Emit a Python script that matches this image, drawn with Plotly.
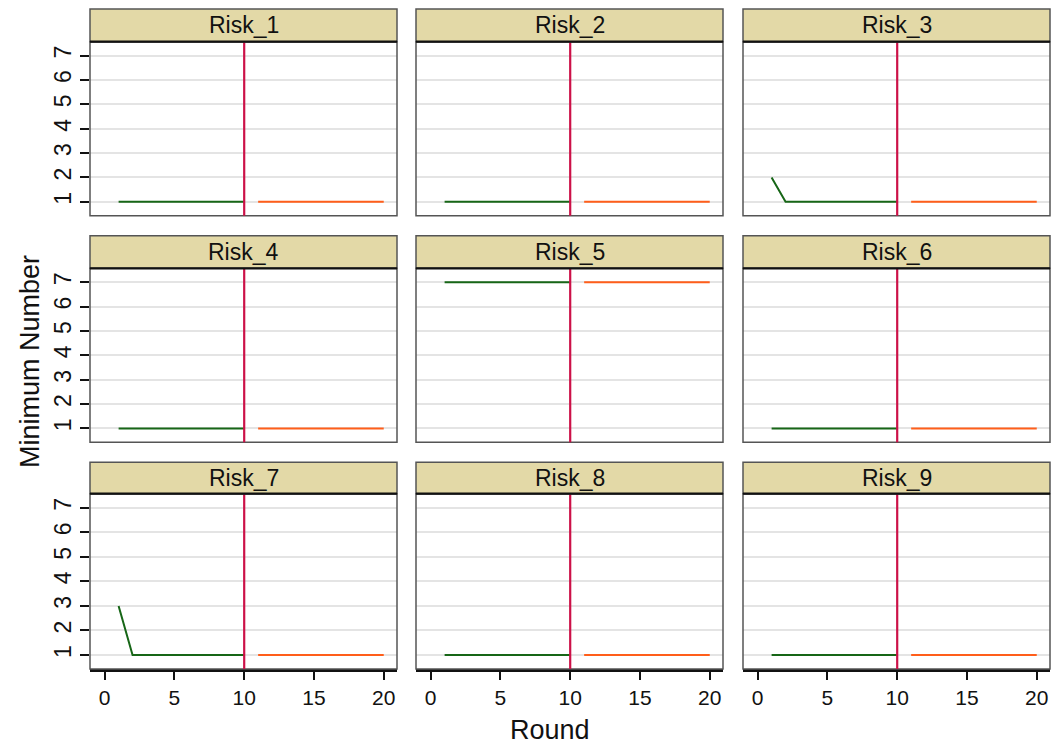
import plotly.graph_objects as go

W, H = 1054, 749

panels = ["Risk_1", "Risk_2", "Risk_3", "Risk_4", "Risk_5", "Risk_6", "Risk_7", "Risk_8", "Risk_9"]
rounds_before = [1, 2, 3, 4, 5, 6, 7, 8, 9, 10]
rounds_after = [11, 12, 13, 14, 15, 16, 17, 18, 19, 20]
before_vals = {
    "Risk_1": [1, 1, 1, 1, 1, 1, 1, 1, 1, 1],
    "Risk_2": [1, 1, 1, 1, 1, 1, 1, 1, 1, 1],
    "Risk_3": [2, 1, 1, 1, 1, 1, 1, 1, 1, 1],
    "Risk_4": [1, 1, 1, 1, 1, 1, 1, 1, 1, 1],
    "Risk_5": [7, 7, 7, 7, 7, 7, 7, 7, 7, 7],
    "Risk_6": [1, 1, 1, 1, 1, 1, 1, 1, 1, 1],
    "Risk_7": [3, 1, 1, 1, 1, 1, 1, 1, 1, 1],
    "Risk_8": [1, 1, 1, 1, 1, 1, 1, 1, 1, 1],
    "Risk_9": [1, 1, 1, 1, 1, 1, 1, 1, 1, 1],
}
after_vals = {
    "Risk_1": [1] * 10,
    "Risk_2": [1] * 10,
    "Risk_3": [1] * 10,
    "Risk_4": [1] * 10,
    "Risk_5": [7] * 10,
    "Risk_6": [1] * 10,
    "Risk_7": [1] * 10,
    "Risk_8": [1] * 10,
    "Risk_9": [1] * 10,
}
x_ticks = [0, 5, 10, 15, 20]
y_ticks = [1, 2, 3, 4, 5, 6, 7]
split_round = 10

GREEN = "#176617"
ORANGE = "#FF5E1A"
VLINE = "#CC1148"
STRIP = "#E3D9A7"
FONT = "Liberation Sans, Arial, sans-serif"

col_px = [(90, 397), (416, 723), (743, 1050)]
row_px = [(41.7, 215.7), (268.3, 442.3), (493.7, 669.0)]
strip_top = [9, 235.7, 462.3]

fig = go.Figure()
shapes = []
annotations = []

for i, name in enumerate(panels):
    r, c = divmod(i, 3)
    k = i + 1
    xa = "x" if k == 1 else f"x{k}"
    ya = "y" if k == 1 else f"y{k}"
    fig.add_trace(go.Scatter(x=rounds_before, y=before_vals[name], mode="lines",
                             line=dict(color=GREEN, width=2), xaxis=xa, yaxis=ya,
                             showlegend=False, hoverinfo="skip"))
    fig.add_trace(go.Scatter(x=rounds_after, y=after_vals[name], mode="lines",
                             line=dict(color=ORANGE, width=2), xaxis=xa, yaxis=ya,
                             showlegend=False, hoverinfo="skip"))
    x0, x1 = col_px[c]
    y0, y1 = row_px[r]
    xd = [x0 / W, x1 / W]
    yd = [1 - y1 / H, 1 - y0 / H]
    bottom = r == 2
    left = c == 0
    fig.layout[("xaxis" if k == 1 else f"xaxis{k}")] = dict(
        domain=xd, range=[-1.05, 20.95], anchor=ya,
        showgrid=False, zeroline=False,
        tickvals=x_ticks, showticklabels=bottom,
        ticks="outside" if bottom else "", ticklen=8, tickwidth=1.8, tickcolor="#111",
        tickfont=dict(family=FONT, size=21, color="#111"),
        showline=bottom, linecolor="#111", linewidth=2.5, mirror=False,
    )
    fig.layout[("yaxis" if k == 1 else f"yaxis{k}")] = dict(
        domain=yd, range=[0.43, 7.57], anchor=xa,
        showgrid=True, gridcolor="#E4E4E4", gridwidth=2, zeroline=False,
        tickvals=y_ticks, showticklabels=left, tickangle=-90,
        ticks="outside" if left else "", ticklen=9, tickwidth=1.8, tickcolor="#111",
        tickfont=dict(family=FONT, size=23, color="#111"),
        showline=False,
    )
    shapes.append(dict(type="rect", xref=f"{xa} domain", yref=f"{ya} domain",
                       x0=0, x1=1, y0=0, y1=1, line=dict(color="#555", width=1.5),
                       layer="above"))
    shapes.append(dict(type="line", xref=xa, yref=f"{ya} domain",
                       x0=split_round, x1=split_round, y0=0, y1=1,
                       line=dict(color=VLINE, width=2.2), layer="above"))
    st = strip_top[r]
    shapes.append(dict(type="rect", xref="paper", yref="paper",
                       x0=x0 / W, x1=x1 / W, y0=1 - y0 / H, y1=1 - st / H,
                       fillcolor=STRIP, line=dict(color="#555", width=1.5), layer="above"))
    shapes.append(dict(type="line", xref="paper", yref="paper",
                       x0=x0 / W, x1=x1 / W, y0=1 - y0 / H, y1=1 - y0 / H,
                       line=dict(color="#111", width=2.2), layer="above"))
    annotations.append(dict(text=name, xref="paper", yref="paper",
                            x=(x0 + x1) / 2 / W, y=1 - (st + y0) / 2 / H,
                            xanchor="center", yanchor="middle", showarrow=False,
                            font=dict(family=FONT, size=23, color="#111")))

annotations.append(dict(text="Round", xref="paper", yref="paper",
                        x=550 / W, y=1 - 730 / H, xanchor="center", yanchor="middle",
                        showarrow=False, font=dict(family=FONT, size=27, color="#111")))
annotations.append(dict(text="Minimum Number", xref="paper", yref="paper",
                        x=30 / W, y=1 - 362 / H, xanchor="center", yanchor="middle",
                        textangle=-90, showarrow=False,
                        font=dict(family=FONT, size=27, color="#111")))

fig.update_layout(width=W, height=H, margin=dict(l=0, r=0, t=0, b=0),
                  paper_bgcolor="white", plot_bgcolor="white",
                  shapes=shapes, annotations=annotations, showlegend=False)

fig.write_html("out.html", config={"displayModeBar": False},
               post_script="document.body.style.margin='0';document.body.style.overflow='hidden';")
